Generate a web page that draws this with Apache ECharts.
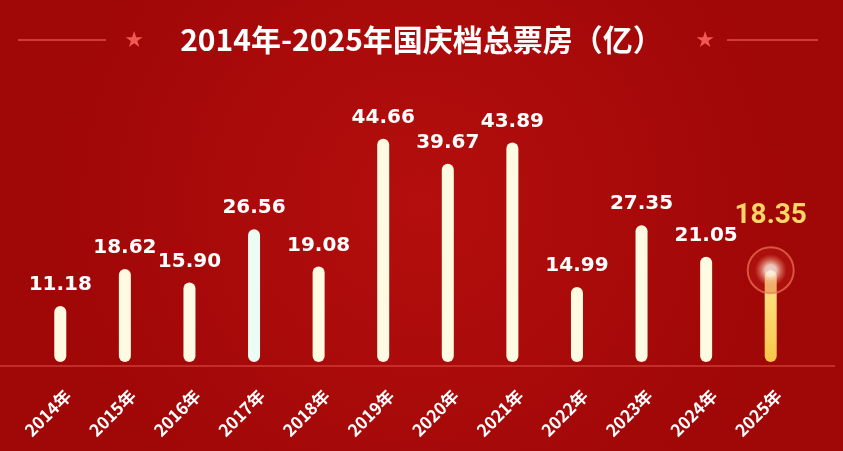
<!DOCTYPE html>
<html><head><meta charset="utf-8">
<script src="https://cdn.jsdelivr.net/npm/echarts@6/dist/echarts.min.js"></script>
<style>html,body{margin:0;padding:0;background:#a50a0a}#c{width:843px;height:451px}</style>
</head><body><div id="c"></div>
<script>
const years = ['2014年','2015年','2016年','2017年','2018年','2019年','2020年','2021年','2022年','2023年','2024年','2025年'];
const boxOffice = [11.18, 18.62, 15.90, 26.56, 19.08, 44.66, 39.67, 43.89, 14.99, 27.35, 21.05, 18.35];
const title = '2014年-2025年国庆档总票房（亿）';

const chart = echarts.init(document.getElementById('c'));
const last = boxOffice.length - 1;
const barData = boxOffice.map((v, i) => {
  if (i === last) {
    return {value: v,
      itemStyle: {color: new echarts.graphic.LinearGradient(0,0,0,1,[{offset:0,color:'#ffe690'},{offset:1,color:'#f7c64a'}])},
      label: {color:'#ffd566', fontSize: 28, fontFamily: 'Roboto', distance: 40}};
  }
  if (i === 3) return {value: v, itemStyle: {color: '#eafcf3'}};
  return v;
});
const glowData = boxOffice.map((v, i) => i === last ? v : '-');

chart.setOption({
  backgroundColor: new echarts.graphic.RadialGradient(0.5, 0.45, 0.8, [
    {offset: 0, color: '#b40e0e'}, {offset: 1, color: '#a00707'}]),
  animation: false,
  title: {text: title, left: 'center', top: 20,
    textStyle: {color: '#fff', fontSize: 30, fontWeight: 'bold', fontFamily: 'Noto Sans CJK SC'}},
  graphic: [
    {type: 'line', shape: {x1: 18, y1: 40, x2: 106, y2: 40}, style: {stroke: '#e0504a', lineWidth: 1.5}},
    {type: 'line', shape: {x1: 727, y1: 40, x2: 818, y2: 40}, style: {stroke: '#e0504a', lineWidth: 1.5}},
    {type: 'text', x: 134, y: 41, style: {text: '★', fill: '#ef5a52', font: '22px "DejaVu Sans"', align: 'center', verticalAlign: 'middle'}},
    {type: 'text', x: 705, y: 41, style: {text: '★', fill: '#ef5a52', font: '22px "DejaVu Sans"', align: 'center', verticalAlign: 'middle'}},
    {type: 'line', shape: {x1: 0, y1: 366, x2: 835, y2: 366}, style: {stroke: '#cf3a36', lineWidth: 1.5}}
  ],
  grid: {left: 28, right: 40, top: 112, bottom: 89},
  xAxis: {type: 'category', data: years,
    axisLine: {show: false}, axisTick: {show: false},
    axisLabel: {color: '#fff', fontSize: 17, fontWeight: 'bold', rotate: 45, margin: 23,
      verticalAlign: 'top', lineHeight: 22, fontFamily: 'Noto Sans CJK SC'}},
  yAxis: {type: 'value', min: 0, max: 50, show: false, splitLine: {show: false}},
  series: [
    {type: 'bar', data: barData, barWidth: 12,
      itemStyle: {color: '#fffbe2', borderRadius: 6},
      label: {show: true, position: 'top', distance: 11, color: '#fff', fontSize: 20, fontWeight: 'bold', fontFamily: 'DejaVu Sans',
        formatter: p => Number(p.value).toFixed(2)}},
    {type: 'scatter', data: glowData, symbolSize: 46, z: 5,
      itemStyle: {color: 'rgba(200,40,30,0.35)', borderColor: 'rgba(240,120,90,0.85)', borderWidth: 2}},
    {type: 'scatter', data: glowData, symbolSize: 32, z: 6,
      itemStyle: {color: new echarts.graphic.RadialGradient(0.5,0.5,0.5,[
        {offset: 0, color: 'rgba(255,255,255,1)'}, {offset: 0.35, color: 'rgba(255,250,235,0.95)'},
        {offset: 0.7, color: 'rgba(255,190,160,0.45)'}, {offset: 1, color: 'rgba(255,160,130,0)'}])}}
  ]
});
</script></body></html>
